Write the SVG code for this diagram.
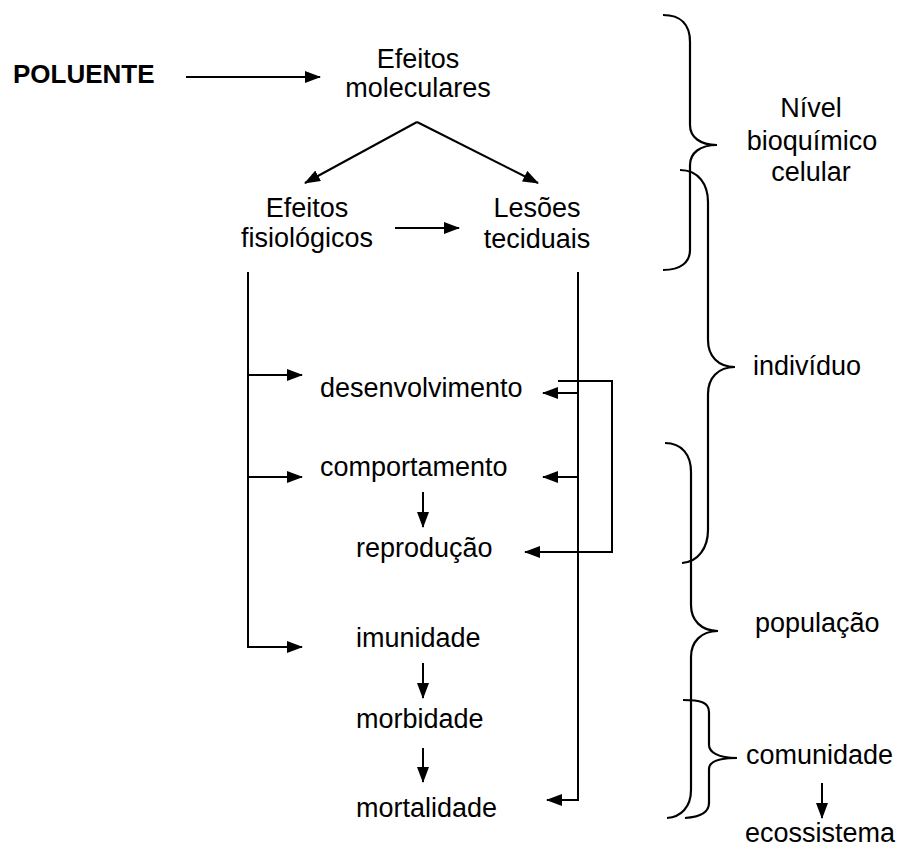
<svg xmlns="http://www.w3.org/2000/svg" width="899" height="849" viewBox="0 0 899 849">
<style>
text{font-family:"Liberation Sans",Arial,sans-serif;font-size:27px;fill:#000}
.b{font-weight:bold;font-size:26px}
.c{text-anchor:middle}
.ln{fill:none;stroke:#000;stroke-width:2}
.br{fill:none;stroke:#000;stroke-width:2.2}
</style>
<defs>
<marker id="ah" markerUnits="userSpaceOnUse" markerWidth="16" markerHeight="12" refX="15" refY="6" orient="auto">
<path d="M0,0 L16,6 L0,12 z" fill="#000"/>
</marker>
</defs>
<rect width="899" height="849" fill="#fff"/>
<g id="connectors">
<line class="ln" x1="186" y1="77" x2="320" y2="77" marker-end="url(#ah)"/>
<line class="ln" x1="417" y1="122" x2="305" y2="183" marker-end="url(#ah)"/>
<line class="ln" x1="417" y1="122" x2="538" y2="183" marker-end="url(#ah)"/>
<line class="ln" x1="395" y1="228" x2="459" y2="228" marker-end="url(#ah)"/>
<polyline class="ln" points="248,272 248,647 302,647" marker-end="url(#ah)"/>
<line class="ln" x1="248" y1="375" x2="302" y2="375" marker-end="url(#ah)"/>
<line class="ln" x1="248" y1="477" x2="302" y2="477" marker-end="url(#ah)"/>
<polyline class="ln" points="578,272 578,800 547,800" marker-end="url(#ah)"/>
<line class="ln" x1="578" y1="393" x2="543" y2="393" marker-end="url(#ah)"/>
<line class="ln" x1="578" y1="477" x2="543" y2="477" marker-end="url(#ah)"/>
<polyline class="ln" points="558,381 612,381 612,552 525,552" marker-end="url(#ah)"/>
<line class="ln" x1="423" y1="492" x2="423" y2="527" marker-end="url(#ah)"/>
<line class="ln" x1="423" y1="663" x2="423" y2="698" marker-end="url(#ah)"/>
<line class="ln" x1="423" y1="748" x2="423" y2="782" marker-end="url(#ah)"/>
<line class="ln" x1="822" y1="783" x2="822" y2="818" marker-end="url(#ah)"/>
</g>
<g id="poluente"><text class="b" x="13" y="83">POLUENTE</text></g>
<g id="efeitos-moleculares"><text class="c" x="418" y="68">Efeitos</text><text class="c" x="418" y="97">moleculares</text></g>
<g id="efeitos-fisiologicos"><text class="c" x="307" y="217">Efeitos</text><text class="c" x="307" y="247">fisiológicos</text></g>
<g id="lesoes-teciduais"><text class="c" x="537" y="217">Lesões</text><text class="c" x="537" y="248">teciduais</text></g>
<g id="desenvolvimento"><text x="320" y="397">desenvolvimento</text></g>
<g id="comportamento"><text x="320" y="476">comportamento</text></g>
<g id="reproducao"><text x="356" y="557">reprodução</text></g>
<g id="imunidade"><text x="356" y="647">imunidade</text></g>
<g id="morbidade"><text x="356" y="728">morbidade</text></g>
<g id="mortalidade"><text x="356" y="817">mortalidade</text></g>
<g id="nivel-bioquimico">
<path class="br" d="M663,15 C681,15 690,25 690,42 L690,125 C690,137 700,145 717,145 C700,145 690,153 690,165 L690,250 C690,262 681,270 663,270"/>
<text class="c" x="811" y="117">Nível</text><text class="c" x="812" y="150">bioquímico</text><text class="c" x="811" y="181">celular</text>
</g>
<g id="individuo">
<path class="br" d="M680,170 C699,170 708,185 708,202 L708,340 C708,356 718,367 735,367 C718,367 708,378 708,394 L708,530 C708,548 698,562 682,563"/>
<text x="753" y="375">indivíduo</text>
</g>
<g id="populacao">
<path class="br" d="M665,443 C682,443 691,455 691,472 L691,605 C691,620 701,631 718,631 C701,631 691,642 691,657 L691,790 C691,807 681,817 667,818"/>
<text x="755" y="632">população</text>
</g>
<g id="comunidade">
<path class="br" d="M683,700 C700,700 709,702 709,712 L709,745 C709,752 718,758 737,758 C718,758 709,762 709,769 L709,803 C709,813 700,817 685,818"/>
<text x="746" y="764">comunidade</text>
</g>
<g id="ecossistema"><text x="745" y="842">ecossistema</text></g>
</svg>
